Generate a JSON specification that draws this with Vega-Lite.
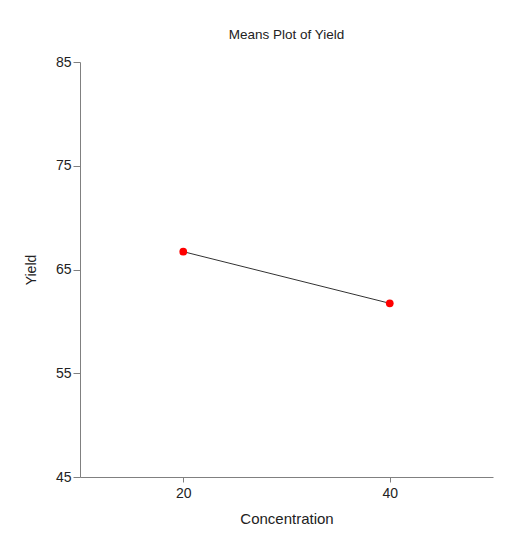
{
  "$schema": "https://vega.github.io/schema/vega-lite/v6.json",
  "autosize": "none",
  "width": 413,
  "height": 415,
  "padding": {"left": 80, "top": 62, "right": 13, "bottom": 65},
  "background": "white",
  "title": {"text": "Means Plot of Yield", "font": "Liberation Sans", "fontSize": 13.5, "fontWeight": "normal", "color": "#222222", "offset": 14},
  "data": {"values": [
    {"Concentration": "20", "Yield": 66.72},
    {"Concentration": "40", "Yield": 61.74}
  ]},
  "encoding": {
    "x": {"field": "Concentration", "type": "ordinal", "scale": {"type": "point", "padding": 0.5},
      "axis": {"labelAngle": 0, "title": "Concentration", "grid": false, "domainColor": "#808080", "tickColor": "#808080", "tickSize": 5,
        "labelFont": "Liberation Sans", "labelFontSize": 14, "labelColor": "#222222", "labelPadding": 4,
        "titleFont": "Liberation Sans", "titleFontSize": 15, "titleFontWeight": "normal", "titleColor": "#222222", "titlePadding": 11}},
    "y": {"field": "Yield", "type": "quantitative", "scale": {"domain": [45, 85], "nice": false, "zero": false},
      "axis": {"values": [45, 55, 65, 75, 85], "title": "Yield", "grid": false, "domainColor": "#808080", "tickColor": "#808080", "tickSize": 7,
        "labelFont": "Liberation Sans", "labelFontSize": 14, "labelColor": "#222222", "labelPadding": 2,
        "titleFont": "Liberation Sans", "titleFontSize": 14, "titleFontWeight": "normal", "titleColor": "#222222", "titlePadding": 17}}
  },
  "layer": [
    {"mark": {"type": "line", "color": "#333333", "strokeWidth": 1}},
    {"mark": {"type": "point", "filled": true, "color": "#ff0000", "opacity": 1, "size": 60}}
  ],
  "config": {"view": {"stroke": null}}
}
